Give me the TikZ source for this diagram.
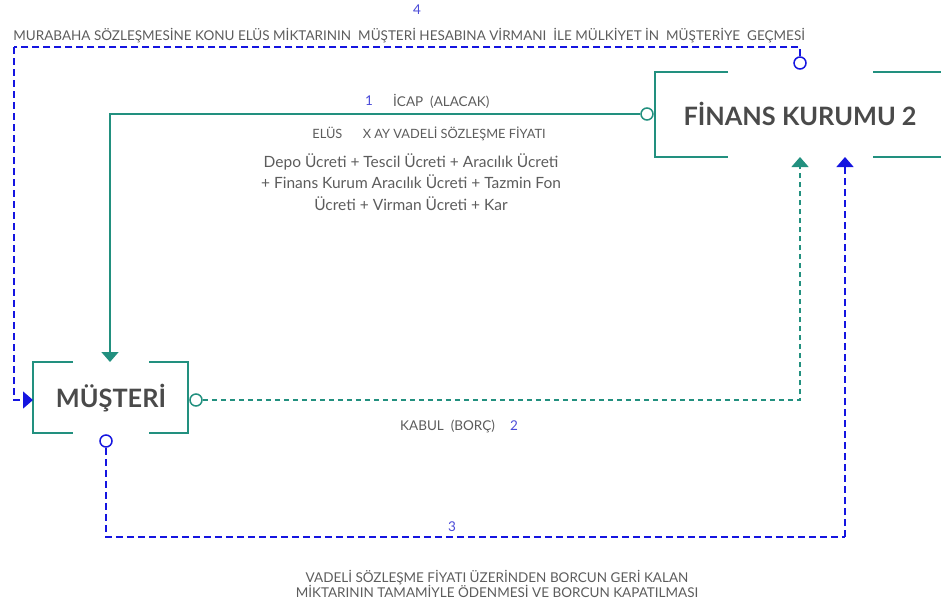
\documentclass[tikz,border=0pt]{standalone}
\usepackage{fontspec}
\setmainfont{Lato}
\usetikzlibrary{arrows.meta}
\definecolor{teal2}{HTML}{22907F}
\definecolor{flowblue}{HTML}{1515E0}
\definecolor{numblue}{HTML}{4A4AD8}
\definecolor{labelgray}{HTML}{5C5C5C}
\definecolor{boxgray}{HTML}{4A4A4A}
\tikzset{
  bracket/.style={draw=teal2, line width=1.6pt},
  boxtext/.style={font=\bfseries\fontsize{25.3}{30}\selectfont, text=boxgray, inner sep=0pt},
  flowlabel/.style={font=\fontsize{13.5}{16}\selectfont, text=labelgray, inner sep=0pt},
  numlabel/.style={font=\fontsize{13.5}{16}\selectfont, text=numblue, inner sep=0pt},
  feelabel/.style={font=\fontsize{15.5}{21.5}\selectfont, text=labelgray, align=center, inner sep=0pt},
  tealport/.style={circle, draw=teal2, fill=white, line width=1.5pt, minimum size=12pt, inner sep=0pt},
  blueport/.style={circle, draw=flowblue, fill=white, line width=1.5pt, minimum size=12pt, inner sep=0pt},
  tealflow/.style={draw=teal2, line width=1.6pt},
  tealdash/.style={draw=teal2, line width=1.4pt, dash pattern=on 5pt off 4pt},
  bluedash/.style={draw=flowblue, line width=1.5pt, dash pattern=on 7pt off 4pt},
  head/.style={-{Triangle[width=17pt,length=10pt]}}
}
\begin{document}
\begin{tikzpicture}[x=1pt,y=-1pt]
\useasboundingbox (0,0) rectangle (941,603);

% institution box (open on the right)
\draw[bracket] (728,72) -- (655,72) -- (655,157) -- (728,157);
\draw[bracket] (873,72) -- (950,72);
\draw[bracket] (873,157) -- (950,157);
\node[boxtext] (fk) at (800,114) {FİNANS KURUMU 2};

% customer box
\draw[bracket] (73,362) -- (33,362) -- (33,433) -- (73,433);
\draw[bracket] (149,362) -- (188,362) -- (188,433) -- (149,433);
\node[boxtext] (mu) at (111,398) {MÜŞTERİ};

% ports
\node[tealport] (p1) at (647,114) {};
\node[tealport] (p2) at (196,400) {};
\node[blueport] (p3) at (106,441) {};
\node[blueport] (p4) at (800,63) {};

% connector end points
\coordinate (mtop) at (110,362);
\coordinate (mleft) at (33,400);
\coordinate (fkb1) at (800,157);
\coordinate (fkb2) at (845,157);
\coordinate (c4a) at (14,47);
\coordinate (c3a) at (845,537);

% 1: offer
\draw[tealflow, head] (p1.west) -| (mtop);
% 2: acceptance
\draw[tealdash, head] (p2.east) -| (fkb1);
% 3: repayment
\draw[bluedash] (p3.south) |- (c3a);
\draw[bluedash, head] (c3a) -- (fkb2);
% 4: transfer of ownership
\draw[bluedash] (p4.north) |- (c4a);
\draw[bluedash, head] (c4a) |- (mleft);

% labels
\node[numlabel] (n4) at (417,10) {4};
\node[flowlabel] (l4) at (409,36) {MURABAHA SÖZLEŞMESİNE KONU ELÜS MİKTARININ\ \ MÜŞTERİ HESABINA VİRMANI\ \ İLE MÜLKİYET İN\ \ MÜŞTERİYE\ \ GEÇMESİ};
\node[numlabel] (n1) at (369,101) {1};
\node[flowlabel, anchor=west] (l1) at (393,101) {İCAP\ \ (ALACAK)};
\node[flowlabel, font=\fontsize{12.8}{15}\selectfont] (l1b) at (429,134) {ELÜS\hspace{1.6em}X AY VADELİ SÖZLEŞME FİYATI};
\node[feelabel] (fee) at (411,182) {Depo Ücreti + Tescil Ücreti + Aracılık Ücreti\\+ Finans Kurum Aracılık Ücreti + Tazmin Fon\\Ücreti + Virman Ücreti + Kar};
\node[flowlabel, anchor=west] (l2) at (400,426) {KABUL\ \ (BORÇ)};
\node[numlabel] (n2) at (514,426) {2};
\node[numlabel] (n3) at (452,527) {3};
\node[flowlabel, align=center, font=\fontsize{13.5}{15.5}\selectfont] (l3) at (497,584) {VADELİ SÖZLEŞME FİYATI ÜZERİNDEN BORCUN GERİ KALAN\\MİKTARININ TAMAMİYLE ÖDENMESİ VE BORCUN KAPATILMASI};
\end{tikzpicture}
\end{document}
